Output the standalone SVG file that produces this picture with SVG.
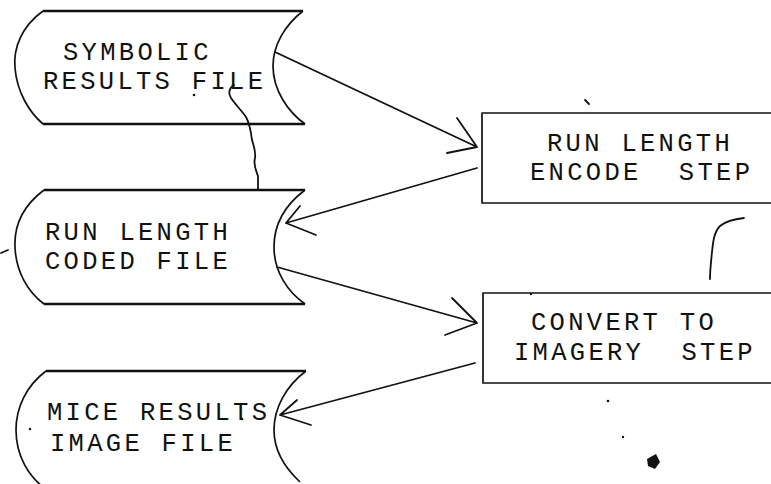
<svg xmlns="http://www.w3.org/2000/svg" width="771" height="484" viewBox="0 0 771 484">
<style>
.edge{fill:none;stroke:#111;stroke-width:1.8;stroke-linecap:round;stroke-linejoin:round}
.shape{fill:none;stroke:#111;stroke-width:1.7;stroke-linejoin:round}
.hl{fill:none;stroke:#111;stroke-width:2.4}
.t{font-family:"Liberation Mono","DejaVu Sans Mono",monospace;font-size:25.5px;letter-spacing:3.3px;fill:#111;white-space:pre}
.speck{fill:#111}
</style>
<rect width="771" height="484" fill="#fff"/>

<g id="symbolic-results-file">
  <path class="hl" d="M43,11 H303 M43,124 H305"/>
  <path class="shape" d="M43,11 C22,26 13,48 15,68 C17,92 29,112 43,124"/>
  <path class="shape" d="M303,11 C285,25 273,45 273,66 C273,90 288,112 305,124"/>
  <text class="t" x="63" y="60">SYMBOLIC</text>
  <text class="t" x="43" y="89">RESULTS FILE</text>
</g>

<g id="run-length-coded-file">
  <path class="hl" d="M44,190 H305 M44,304 H305"/>
  <path class="shape" d="M44,190 C24,205 14,225 15,247 C16,272 28,292 44,304"/>
  <path class="shape" d="M305,190 C285,205 274,225 274,247 C274,272 288,292 305,304"/>
  <text class="t" x="45" y="240">RUN LENGTH</text>
  <text class="t" x="45" y="269">CODED FILE</text>
</g>

<g id="mice-results-image-file">
  <path class="hl" d="M46,371 H306"/>
  <path class="shape" d="M46,371 C26,386 16,408 16,430 C16,455 28,478 50,492"/>
  <path class="shape" d="M306,371 C286,386 274,408 274,430 C274,452 285,468 300,482"/>
  <text class="t" x="47" y="420">MICE RESULTS</text>
  <text class="t" x="50" y="451">IMAGE FILE</text>
</g>

<g id="run-length-encode-step">
  <rect class="shape" x="482" y="113" width="300" height="90" stroke-width="2"/>
  <text class="t" x="547" y="151">RUN LENGTH</text>
  <text class="t" x="530" y="180">ENCODE  STEP</text>
</g>

<g id="convert-to-imagery-step">
  <rect class="shape" x="483" y="293" width="300" height="90" stroke-width="2"/>
  <text class="t" x="531" y="330">CONVERT TO</text>
  <text class="t" x="514" y="360">IMAGERY  STEP</text>
</g>

<g id="connectors">
  <path class="edge" d="M275,52 L477,147 M457,118 L477,147 L447,153"/>
  <path class="edge" d="M477,168 L286,223 M300,206 L286,223 L316,235"/>
  <path class="edge" d="M277,267 L477,323 M452,298 L477,323 L445,335"/>
  <path class="edge" d="M475,363 L280,415 M297,400 L280,415 L311,425"/>
</g>

<g id="marks">
  <path class="edge" stroke-width="1.6" d="M234,85 C229,88 228,93 231,98 C235,104 241,110 246,117 C250,124 251,132 252,140 C254,147 256,152 255,158 C253,165 256,170 258,176 C258,181 258,185 258,190"/>
  <path class="edge" stroke-width="2" d="M744,218 C735,219 726,221 720,226 C714,232 713,242 712,252 C711,262 710,270 710,279"/>
  <path class="edge" d="M1,253 L8,250"/>
  <path class="edge" stroke-width="1.5" d="M585,100 L589,104"/>
  <path class="speck" d="M647,459 L656,454 L660,462 L655,469 L648,466 Z"/>
  <circle class="speck" cx="608" cy="401" r="1.3"/>
  <circle class="speck" cx="623" cy="437" r="1.2"/>
  <circle class="speck" cx="531" cy="294" r="1.2"/>
  <circle class="speck" cx="194" cy="95" r="1.3"/>
  <circle class="speck" cx="242" cy="419" r="1.3"/>
  <circle class="speck" cx="30" cy="429" r="1.2"/>
</g>
</svg>
